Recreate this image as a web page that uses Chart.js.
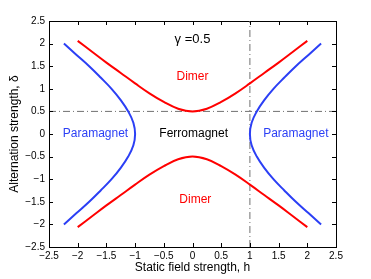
<!DOCTYPE html>
<html>
<head>
<meta charset="utf-8">
<script src="https://cdn.jsdelivr.net/npm/chart.js@4/dist/chart.umd.min.js"></script>
<style>
html,body{margin:0;padding:0;background:#fff;}
#wrap{width:371px;height:279px;}
</style>
</head>
<body>
<div id="wrap"><canvas id="c" width="371" height="279"></canvas></div>
<script>
// ---- data ----
const xTicks = [-2.5, -2, -1.5, -1, -0.5, 0, 0.5, 1, 1.5, 2, 2.5];
const yTicks = [-2.5, -2, -1.5, -1, -0.5, 0, 0.5, 1, 1.5, 2, 2.5];

// red (dimer boundary) curves: field h vs delta
const redH          = [-2, -1.75, -1.5, -1.25, -1, -0.75, -0.5, -0.25, 0, 0.25, 0.5, 0.75, 1, 1.25, 1.5, 1.75, 2];
const redDeltaUpper = [2.06, 1.82, 1.58, 1.35, 1.12, 0.90, 0.71, 0.56, 0.50, 0.56, 0.71, 0.90, 1.12, 1.35, 1.58, 1.82, 2.06];
const redDeltaLower = [-2.06, -1.82, -1.58, -1.35, -1.12, -0.90, -0.71, -0.56, -0.50, -0.56, -0.71, -0.90, -1.12, -1.35, -1.58, -1.82, -2.06];

// blue (paramagnet boundary) curves: delta vs field h
const blueDelta  = [-2, -1.75, -1.5, -1.25, -1, -0.75, -0.5, -0.25, 0, 0.25, 0.5, 0.75, 1, 1.25, 1.5, 1.75, 2];
const blueHRight = [2.24, 2.02, 1.80, 1.60, 1.41, 1.25, 1.12, 1.03, 1.00, 1.03, 1.12, 1.25, 1.41, 1.60, 1.80, 2.02, 2.24];
const blueHLeft  = [-2.24, -2.02, -1.80, -1.60, -1.41, -1.25, -1.12, -1.03, -1.00, -1.03, -1.12, -1.25, -1.41, -1.60, -1.80, -2.02, -2.24];

// dash-dot reference lines
const refDelta = 0.5;
const refH = 1;

// region labels
const labelTexts = ['\u03B3 =0.5', 'Dimer', 'Dimer', 'Paramagnet', 'Ferromagnet', 'Paramagnet'];
const labelH     = [0, 0, 0.05, -1.69, 0.02, 1.8];
const labelDelta = [2.1, 1.26, -1.46, 0.0, 0.0, 0.0];

// ---- build chart ----
const RED = '#ff0000';
const BLUE = '#2b3ff5';
const labelColors = ['#000000', RED, RED, BLUE, '#000000', BLUE];
const labelFonts = ['13px "Liberation Sans", Arial, sans-serif', '12px "Liberation Sans", Arial, sans-serif', '12px "Liberation Sans", Arial, sans-serif', '12px "Liberation Sans", Arial, sans-serif', '12px "Liberation Sans", Arial, sans-serif', '12px "Liberation Sans", Arial, sans-serif'];

const pts = (xs, ys) => xs.map((x, i) => ({x: x, y: ys[i]}));

const curveStyle = {showLine: true, pointRadius: 0, borderWidth: 2, tension: 0.4, fill: false, order: 1};
const refStyle = {showLine: true, pointRadius: 0, borderWidth: 1, borderColor: '#707070', borderDash: [7, 3, 1, 3], fill: false, order: 2, tension: 0};

const datasets = [
  Object.assign({label: 'red upper', data: pts(redH, redDeltaUpper), borderColor: RED}, curveStyle),
  Object.assign({label: 'red lower', data: pts(redH, redDeltaLower), borderColor: RED}, curveStyle),
  Object.assign({label: 'blue right', data: pts(blueHRight, blueDelta), borderColor: BLUE}, curveStyle),
  Object.assign({label: 'blue left', data: pts(blueHLeft, blueDelta), borderColor: BLUE}, curveStyle),
  Object.assign({label: 'ref h', data: [{x: xTicks[0], y: refDelta}, {x: xTicks[xTicks.length - 1], y: refDelta}]}, refStyle),
  Object.assign({label: 'ref v', data: [{x: refH, y: yTicks[0]}, {x: refH, y: yTicks[yTicks.length - 1]}]}, refStyle)
];

const fmt = v => String(v).replace('-', '\u2212');
const tickFont = {family: '"Liberation Sans", Arial, sans-serif', size: 10};
const titleFont = {family: '"Liberation Sans", Arial, sans-serif', size: 12};

const inwardTicks = {
  id: 'inwardTicks',
  afterDraw(chart) {
    const ctx = chart.ctx, a = chart.chartArea;
    const sx = chart.scales.x, sy = chart.scales.y;
    const L = 4;
    ctx.save();
    ctx.strokeStyle = '#000';
    ctx.lineWidth = 1;
    ctx.beginPath();
    xTicks.forEach(v => {
      const p = Math.round(sx.getPixelForValue(v)) + 0.5;
      ctx.moveTo(p, a.bottom); ctx.lineTo(p, a.bottom - L);
      ctx.moveTo(p, a.top); ctx.lineTo(p, a.top + L);
    });
    yTicks.forEach(v => {
      const p = Math.round(sy.getPixelForValue(v)) + 0.5;
      ctx.moveTo(a.left, p); ctx.lineTo(a.left + L, p);
      ctx.moveTo(a.right, p); ctx.lineTo(a.right - L, p);
    });
    ctx.stroke();
    // region labels
    ctx.textAlign = 'center';
    ctx.textBaseline = 'middle';
    labelTexts.forEach((t, i) => {
      ctx.font = labelFonts[i];
      ctx.fillStyle = labelColors[i];
      ctx.fillText(t, sx.getPixelForValue(labelH[i]), sy.getPixelForValue(labelDelta[i]));
    });
    ctx.restore();
  }
};

const baseAxis = {
  type: 'linear', min: -2.5, max: 2.5,
  grid: {drawOnChartArea: false, drawTicks: false},
  border: {display: true, color: '#000', width: 1}
};

new Chart(document.getElementById('c'), {
  type: 'scatter',
  data: {datasets: datasets},
  options: {
    responsive: false,
    animation: false,
    layout: {padding: {top: 21, right: 35, left: 0, bottom: 0}},
    plugins: {legend: {display: false}, tooltip: {enabled: false}},
    scales: {
      x: Object.assign({}, baseAxis, {
        position: 'bottom',
        afterBuildTicks: s => { s.ticks = xTicks.map(v => ({value: v})); },
        afterFit: s => { s.height = 32; },
        ticks: {color: '#000', font: tickFont, padding: 3, maxRotation: 0, autoSkip: false, callback: v => fmt(v)},
        title: {display: true, text: 'Static field strength, h', color: '#000', font: titleFont, padding: {top: 0, bottom: 4}}
      }),
      y: Object.assign({}, baseAxis, {
        position: 'left',
        afterBuildTicks: s => { s.ticks = yTicks.map(v => ({value: v})); },
        afterFit: s => { s.width = 49; },
        ticks: {color: '#000', font: tickFont, padding: 4, autoSkip: false, callback: v => fmt(v)},
        title: {display: true, text: 'Alternation strength, \u03B4', color: '#000', font: titleFont, padding: {top: 7, bottom: 0}}
      }),
      x2: Object.assign({}, baseAxis, {
        position: 'top',
        ticks: {display: false},
        afterFit: s => { s.height = 0; }
      }),
      y2: Object.assign({}, baseAxis, {
        position: 'right',
        ticks: {display: false},
        afterFit: s => { s.width = 0; }
      })
    }
  },
  plugins: [inwardTicks]
});
</script>
</body>
</html>
